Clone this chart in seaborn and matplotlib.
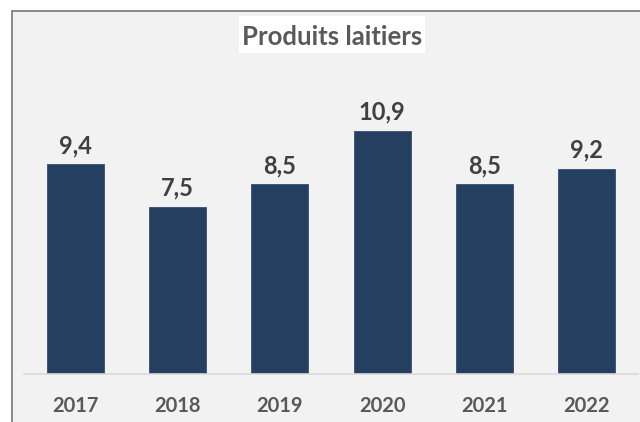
import matplotlib
matplotlib.use("Agg")
import matplotlib.pyplot as plt
import seaborn as sns
import pandas as pd
from matplotlib.patches import Rectangle

years = ["2017", "2018", "2019", "2020", "2021", "2022"]
values = [9.4, 7.5, 8.5, 10.9, 8.5, 9.2]
title = "Produits laitiers"

W, H = 640, 422
DPI = 100
BG = "#F2F2F2"
BAR = "#243F60"

sns.set_theme(style="white")
plt.rcParams["font.family"] = ["Lato", "DejaVu Sans"]

fig = plt.figure(figsize=(W / DPI, H / DPI), dpi=DPI)
fig.patch.set_facecolor("white")

# chart area background with border (top/left visible, extends past right/bottom)
bx, by = 12, 11
fig.patches.append(Rectangle((bx / W, -0.05), 1.1, (H - by) / H + 0.05,
                             transform=fig.transFigure, facecolor=BG,
                             edgecolor="#808080", linewidth=1.3, zorder=-10))

px_per_unit = 22.3
base_y = 374
ymax = 13.0
left, right = 24, 637.8
ax = fig.add_axes([left / W, (H - base_y) / H, (right - left) / W,
                   ymax * px_per_unit / H])
ax.set_facecolor("none")
ax.set_zorder(5)

df = pd.DataFrame({"year": years, "value": values})
sns.barplot(data=df, x="year", y="value", color=BAR, saturation=1,
            width=0.557, ax=ax, edgecolor=BAR, linewidth=0.5)
ax.set_ylim(0, ymax)
ax.set_xlim(-0.5, len(years) - 0.5)
ax.set_xlabel("")
ax.set_ylabel("")
ax.set_yticks([])
for s in ["top", "right", "left"]:
    ax.spines[s].set_visible(False)
ax.spines["bottom"].set_color("#D9D9D9")
ax.spines["bottom"].set_linewidth(1.2)
ax.tick_params(axis="x", length=0, pad=15.5, labelsize=14.5,
               labelcolor="#595959")
for lab in ax.get_xticklabels():
    lab.set_fontweight("bold")

for i, v in enumerate(values):
    ax.annotate(f"{v:.1f}".replace(".", ","), (i, v), xytext=(0, 8),
                textcoords="offset points", ha="center", va="baseline",
                fontsize=17, fontweight="bold", color="#404040")

# title box
tx0, tx1, ty0, ty1 = 239, 425, 16, 53
fig.patches.append(Rectangle((tx0 / W, 1 - ty1 / H), (tx1 - tx0) / W,
                             (ty1 - ty0) / H, transform=fig.transFigure,
                             facecolor="white", edgecolor="none", zorder=1))
fig.text((tx0 + tx1) / 2 / W, 1 - 45 / H, title, ha="center", va="baseline",
         fontsize=18.5, fontweight="bold", color="#595959", zorder=2)

fig.savefig("out.png", dpi=DPI, facecolor=fig.get_facecolor())
